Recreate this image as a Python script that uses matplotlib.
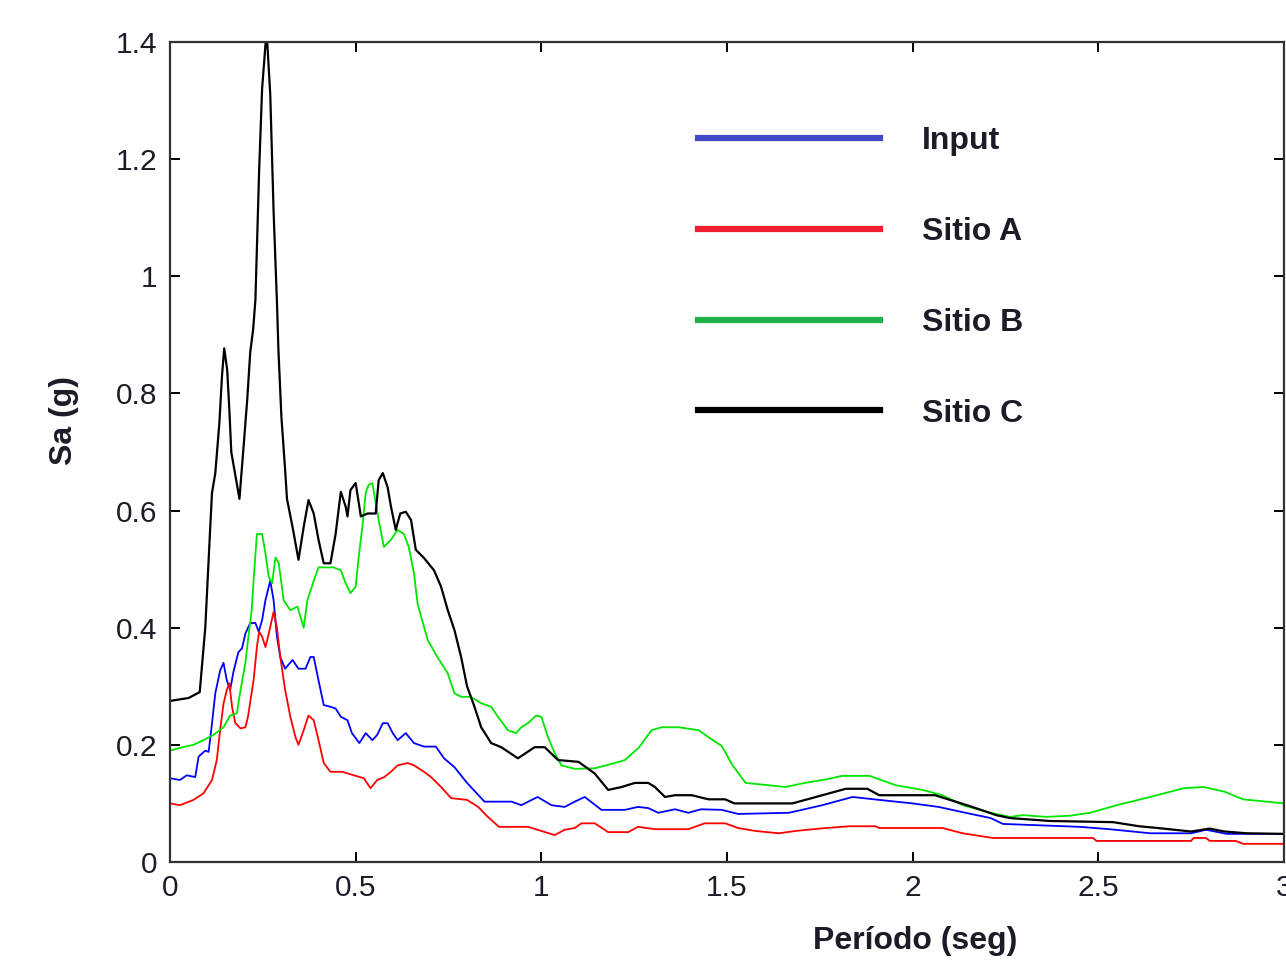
import matplotlib
matplotlib.use('Agg')
import matplotlib.pyplot as plt
from matplotlib.lines import Line2D

plt.rcParams['font.family'] = ['Liberation Sans', 'DejaVu Sans']

# Espectros de respuesta: periodo (seg) y Sa (g)
T_input = [0.0, 0.027, 0.045, 0.068, 0.077, 0.095, 0.104, 0.113, 0.122, 0.135, 0.144, 0.153, 0.162,
           0.171, 0.184, 0.194, 0.203, 0.216, 0.23, 0.239, 0.248, 0.257, 0.266, 0.27, 0.279, 0.288,
           0.297, 0.31, 0.33, 0.346, 0.365, 0.378, 0.387, 0.40, 0.414, 0.432, 0.446, 0.46, 0.478,
           0.49, 0.51, 0.527, 0.545, 0.558, 0.573, 0.586, 0.60, 0.613, 0.635, 0.657, 0.684, 0.716,
           0.738, 0.766, 0.80, 0.847, 0.92, 0.946, 0.99, 1.027, 1.063, 1.09, 1.117, 1.162, 1.225,
           1.26, 1.288, 1.315, 1.36, 1.396, 1.43, 1.486, 1.53, 1.667, 1.757, 1.838, 1.91, 2.0,
           2.07, 2.135, 2.21, 2.243, 2.45, 2.53, 2.64, 2.75, 2.79, 2.846, 3.0]
Sa_input = [0.143, 0.14, 0.148, 0.145, 0.18, 0.19, 0.188, 0.236, 0.288, 0.327, 0.34, 0.31, 0.294,
            0.325, 0.358, 0.365, 0.39, 0.408, 0.408, 0.393, 0.413, 0.447, 0.47, 0.48, 0.447, 0.385,
            0.35, 0.33, 0.345, 0.33, 0.33, 0.35, 0.35, 0.31, 0.268, 0.265, 0.262, 0.248, 0.242,
            0.22, 0.203, 0.22, 0.208, 0.217, 0.237, 0.237, 0.22, 0.208, 0.22, 0.203, 0.197, 0.197,
            0.177, 0.162, 0.135, 0.103, 0.103, 0.097, 0.111, 0.097, 0.094, 0.103, 0.111, 0.089, 0.089,
            0.094, 0.092, 0.084, 0.09, 0.084, 0.09, 0.089, 0.082, 0.084, 0.097, 0.111, 0.106, 0.10,
            0.094, 0.085, 0.075, 0.065, 0.06, 0.056, 0.049, 0.049, 0.055, 0.048, 0.048]

T_a = [0.0, 0.027, 0.063, 0.09, 0.113, 0.126, 0.135, 0.144, 0.153, 0.16, 0.167, 0.176, 0.19,
       0.203, 0.21, 0.225, 0.234, 0.24, 0.248, 0.257, 0.266, 0.279, 0.288, 0.297, 0.31, 0.324,
       0.338, 0.346, 0.36, 0.373, 0.387, 0.40, 0.414, 0.432, 0.464, 0.495, 0.522, 0.54, 0.558,
       0.577, 0.595, 0.613, 0.64, 0.657, 0.684, 0.703, 0.73, 0.757, 0.80, 0.83, 0.856, 0.886,
       0.964, 1.0, 1.036, 1.063, 1.09, 1.108, 1.144, 1.18, 1.234, 1.26, 1.306, 1.396, 1.44,
       1.495, 1.53, 1.576, 1.64, 1.685, 1.766, 1.83, 1.90, 1.91, 2.08, 2.135, 2.216, 2.486,
       2.495, 2.75, 2.757, 2.79, 2.80, 2.87, 2.89, 3.0]
Sa_a = [0.10, 0.097, 0.106, 0.117, 0.14, 0.174, 0.225, 0.27, 0.294, 0.305, 0.265, 0.237, 0.228,
        0.23, 0.248, 0.31, 0.367, 0.393, 0.385, 0.367, 0.39, 0.427, 0.40, 0.35, 0.294, 0.248,
        0.213, 0.20, 0.225, 0.25, 0.242, 0.208, 0.169, 0.154, 0.154, 0.148, 0.143, 0.126, 0.14,
        0.145, 0.154, 0.165, 0.169, 0.165, 0.154, 0.145, 0.128, 0.109, 0.106, 0.094, 0.077, 0.06,
        0.06, 0.053, 0.046, 0.055, 0.058, 0.066, 0.066, 0.051, 0.051, 0.06, 0.056, 0.056, 0.066,
        0.066, 0.058, 0.053, 0.049, 0.053, 0.058, 0.061, 0.061, 0.058, 0.058, 0.049, 0.041, 0.041,
        0.036, 0.036, 0.041, 0.041, 0.036, 0.036, 0.031, 0.031]

T_b = [0.0, 0.027, 0.063, 0.09, 0.117, 0.144, 0.162, 0.18, 0.19, 0.203, 0.21, 0.22, 0.225,
       0.234, 0.248, 0.257, 0.266, 0.275, 0.284, 0.293, 0.306, 0.324, 0.343, 0.36, 0.37, 0.387,
       0.40, 0.441, 0.46, 0.473, 0.486, 0.50, 0.508, 0.518, 0.527, 0.535, 0.545, 0.554, 0.562,
       0.576, 0.595, 0.613, 0.63, 0.643, 0.657, 0.667, 0.694, 0.72, 0.748, 0.766, 0.784, 0.81,
       0.838, 0.865, 0.883, 0.91, 0.932, 0.946, 0.964, 0.986, 1.0, 1.018, 1.036, 1.054, 1.09,
       1.144, 1.198, 1.225, 1.262, 1.297, 1.324, 1.37, 1.424, 1.45, 1.486, 1.513, 1.55, 1.613,
       1.657, 1.71, 1.766, 1.81, 1.884, 1.955, 2.027, 2.08, 2.135, 2.21, 2.262, 2.297, 2.36,
       2.424, 2.478, 2.55, 2.64, 2.73, 2.784, 2.84, 2.89, 3.0]
Sa_b = [0.19, 0.195, 0.20, 0.208, 0.217, 0.23, 0.25, 0.254, 0.294, 0.34, 0.379, 0.43, 0.48,
        0.56, 0.56, 0.527, 0.487, 0.476, 0.52, 0.51, 0.447, 0.43, 0.436, 0.40, 0.447, 0.48,
        0.503, 0.503, 0.498, 0.476, 0.459, 0.47, 0.52, 0.572, 0.63, 0.644, 0.647, 0.613, 0.584,
        0.538, 0.55, 0.567, 0.56, 0.538, 0.493, 0.44, 0.379, 0.35, 0.322, 0.288, 0.282, 0.282,
        0.271, 0.265, 0.248, 0.225, 0.22, 0.23, 0.237, 0.25, 0.248, 0.213, 0.186, 0.165, 0.159,
        0.16, 0.169, 0.174, 0.195, 0.225, 0.23, 0.23, 0.225, 0.213, 0.198, 0.167, 0.135, 0.131,
        0.128, 0.135, 0.141, 0.147, 0.147, 0.131, 0.123, 0.114, 0.097, 0.084, 0.077, 0.08, 0.077,
        0.079, 0.084, 0.097, 0.111, 0.126, 0.128, 0.12, 0.107, 0.10]

T_c = [0.0, 0.05, 0.08, 0.095, 0.108, 0.113, 0.122, 0.133, 0.14, 0.146, 0.154, 0.16, 0.165,
       0.176, 0.187, 0.197, 0.208, 0.216, 0.224, 0.23, 0.24, 0.248, 0.26, 0.27, 0.279, 0.288,
       0.292, 0.30, 0.31, 0.315, 0.33, 0.346, 0.36, 0.373, 0.387, 0.40, 0.414, 0.432, 0.446,
       0.46, 0.473, 0.478, 0.486, 0.50, 0.514, 0.532, 0.554, 0.562, 0.573, 0.586, 0.595, 0.608,
       0.62, 0.635, 0.649, 0.662, 0.684, 0.711, 0.73, 0.748, 0.766, 0.784, 0.80, 0.82, 0.838,
       0.865, 0.892, 0.937, 0.982, 1.009, 1.045, 1.10, 1.144, 1.18, 1.216, 1.252, 1.288, 1.306,
       1.333, 1.36, 1.405, 1.45, 1.495, 1.52, 1.676, 1.757, 1.82, 1.878, 1.91, 2.06, 2.116,
       2.17, 2.225, 2.262, 2.37, 2.54, 2.61, 2.66, 2.75, 2.80, 2.84, 2.9, 3.0]
Sa_c = [0.275, 0.28, 0.29, 0.40, 0.567, 0.63, 0.664, 0.75, 0.83, 0.877, 0.84, 0.77, 0.70,
        0.66, 0.62, 0.70, 0.79, 0.87, 0.91, 0.96, 1.18, 1.32, 1.42, 1.31, 1.11, 0.956,
        0.874, 0.76, 0.67, 0.62, 0.572, 0.516, 0.572, 0.618, 0.595, 0.55, 0.51, 0.51, 0.56,
        0.632, 0.607, 0.59, 0.635, 0.647, 0.59, 0.595, 0.595, 0.652, 0.664, 0.64, 0.607, 0.567,
        0.595, 0.598, 0.584, 0.533, 0.519, 0.498, 0.47, 0.43, 0.396, 0.35, 0.30, 0.265, 0.23,
        0.203, 0.196, 0.177, 0.196, 0.196, 0.174, 0.171, 0.151, 0.123, 0.128, 0.135, 0.135, 0.128,
        0.111, 0.114, 0.114, 0.107, 0.107, 0.10, 0.10, 0.114, 0.125, 0.125, 0.114, 0.114, 0.103,
        0.092, 0.08, 0.075, 0.07, 0.068, 0.061, 0.058, 0.052, 0.057, 0.052, 0.049, 0.048]

series_labels = ['Input', 'Sitio A', 'Sitio B', 'Sitio C']
line_colors = ['#0000ff', '#ff0000', '#00e600', '#000000']
legend_colors = ['#4348c8', '#ee2030', '#22b04b', '#000000']

text_color = '#1c1c28'

fig = plt.figure(figsize=(12.86, 9.73), dpi=100)
ax = fig.add_axes([0.1322, 0.1141, 0.8662, 0.8427])

ax.plot(T_input, Sa_input, color=line_colors[0], lw=1.3)
ax.plot(T_a, Sa_a, color=line_colors[1], lw=1.3)
ax.plot(T_b, Sa_b, color=line_colors[2], lw=1.3)
ax.plot(T_c, Sa_c, color=line_colors[3], lw=1.6)

ax.set_xlim(0, 3)
ax.set_ylim(0, 1.4)
ax.set_xticks([0, 0.5, 1, 1.5, 2, 2.5, 3])
ax.set_xticklabels(['0', '0.5', '1', '1.5', '2', '2.5', '3'])
ax.set_yticks([0, 0.2, 0.4, 0.6, 0.8, 1.0, 1.2, 1.4])
ax.set_yticklabels(['0', '0.2', '0.4', '0.6', '0.8', '1', '1.2', '1.4'])

ax.tick_params(direction='in', length=7, width=1.4, top=True, right=True,
               labelsize=21.5, labelcolor=text_color, pad=9)
for s in ax.spines.values():
    s.set_linewidth(1.6)
    s.set_color('#333333')

ax.set_xlabel('Período (seg)', fontsize=23, fontweight='bold', color=text_color)
ax.set_ylabel('Sa (g)', fontsize=23, fontweight='bold', color=text_color)
ax.xaxis.set_label_coords(0.669, -0.078)
ax.yaxis.set_label_coords(-0.082, 0.539)

# leyenda con líneas gruesas, como en la figura original
handles = [Line2D([], [], color=c, lw=4.5) for c in legend_colors]
leg = ax.legend(handles, series_labels, loc='upper left', bbox_to_anchor=(0.474, 0.897),
                frameon=False, borderpad=0, borderaxespad=0, handlelength=5.7,
                handletextpad=1.3, labelspacing=1.9,
                prop={'size': 23, 'weight': 'bold'})
for t in leg.get_texts():
    t.set_color(text_color)

fig.savefig('out.png', dpi=100)
